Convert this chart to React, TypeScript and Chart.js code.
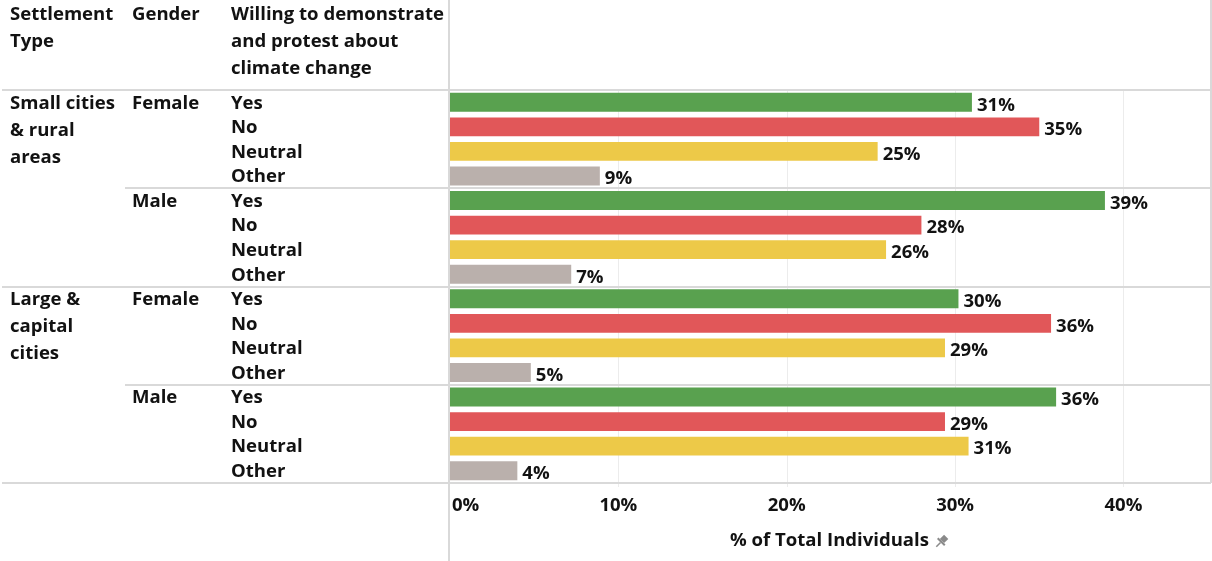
import React, { useEffect, useRef } from "react";
import { Chart, registerables } from "chart.js";
Chart.register(...registerables);

const settlementLines = [["Small cities", "& rural", "areas"], ["Large &", "capital", "cities"]];
const genders = ["Female", "Male"];
const responses = ["Yes", "No", "Neutral", "Other"];
const smallFemale = [31.0, 35.0, 25.4, 8.9];
const smallMale = [38.9, 28.0, 25.9, 7.2];
const largeFemale = [30.2, 35.7, 29.4, 4.8];
const largeMale = [36.0, 29.4, 30.8, 4.0];
const xTicks = [0, 10, 20, 30, 40];
const xTickLabels = ["0%", "10%", "20%", "30%", "40%"];
const axisTitle = "% of Total Individuals";
const headerSettlement = ["Settlement", "Type"];
const headerGender = ["Gender"];
const headerWilling = ["Willing to demonstrate", "and protest about", "climate change"];
const responseColors = ["#59A14F", "#E15759", "#EDC948", "#BAB0AC"];

const groups = [smallFemale, smallMale, largeFemale, largeMale];
const values: number[] = groups.flat();
const labels: string[] = [];
groups.forEach((g, gi) => responses.forEach((r) => labels.push(`${gi}-${r}`)));
const colors: string[] = groups.flatMap(() => responseColors);

const FAMILY = "'Open Sans'";
const TEXT = "#121212";
const LINE = "#d9d9d9";

export default function App() {
  const ref = useRef<HTMLCanvasElement | null>(null);
  useEffect(() => {
    document.body.style.margin = "0";
    const canvas = ref.current!;
    const tablePlugin = {
      id: "table",
      beforeDatasetsDraw(chart: any) {
        const { ctx, chartArea, scales } = chart;
        ctx.save();
        ctx.strokeStyle = "#ececec";
        ctx.lineWidth = 1;
        xTicks.forEach((t) => {
          if (t === 0) return;
          const x = Math.round(scales.x.getPixelForValue(t)) + 0.5;
          ctx.beginPath();
          ctx.moveTo(x, chartArea.top);
          ctx.lineTo(x, chartArea.bottom + 4);
          ctx.stroke();
        });
        ctx.restore();
      },
      afterDraw(chart: any) {
        const { ctx, chartArea, scales } = chart;
        const H = chart.height;
        const ys = scales.y;
        const xs = scales.x;
        const rowY = (i: number) => ys.getPixelForValue(i);
        const between = (i: number) => (rowY(i - 1) + rowY(i)) / 2;
        ctx.save();
        ctx.strokeStyle = LINE;
        ctx.lineWidth = 2;
        const hline = (y: number, x0: number, x1: number) => {
          ctx.beginPath();
          ctx.moveTo(x0, Math.round(y));
          ctx.lineTo(x1, Math.round(y));
          ctx.stroke();
        };
        hline(chartArea.top, 2, chartArea.right);
        hline(between(4), 125, chartArea.right);
        hline(between(8), 2, chartArea.right);
        hline(between(12), 125, chartArea.right);
        hline(chartArea.bottom, 2, chartArea.right);
        ctx.beginPath();
        ctx.moveTo(chartArea.left - 1, 0);
        ctx.lineTo(chartArea.left - 1, H);
        ctx.stroke();
        ctx.beginPath();
        ctx.moveTo(chartArea.right, 0);
        ctx.lineTo(chartArea.right, chartArea.bottom);
        ctx.stroke();

        ctx.font = `bold 16px ${FAMILY}`;
        const w16 = ctx.measureText(headerWilling[0]).width;
        const size = Math.min(19, Math.max(14, (16 * 213) / w16));
        ctx.font = `bold ${size.toFixed(2)}px ${FAMILY}`;
        ctx.fillStyle = TEXT;
        ctx.textBaseline = "middle";
        ctx.textAlign = "left";
        const LH = 27;
        headerSettlement.forEach((t, i) => ctx.fillText(t, 10, 15 + i * LH));
        headerGender.forEach((t, i) => ctx.fillText(t, 132, 15 + i * LH));
        headerWilling.forEach((t, i) => ctx.fillText(t, 231, 15 + i * LH));
        settlementLines.forEach((lines, si) => {
          const y0 = rowY(si * 8) + 1;
          lines.forEach((t, i) => ctx.fillText(t, 10, y0 + i * LH));
        });
        for (let g = 0; g < 4; g++) {
          ctx.fillText(genders[g % 2], 132, rowY(g * 4) + 1);
        }
        labels.forEach((_, i) => {
          ctx.fillText(responses[i % 4], 231, rowY(i) + 1);
        });
        values.forEach((v, i) => {
          const x = xs.getPixelForValue(v) + 5;
          ctx.fillText(Math.round(v) + "%", x, rowY(i) + 3);
        });
        xTicks.forEach((t, i) => {
          const x = xs.getPixelForValue(t);
          if (i === 0) {
            ctx.textAlign = "left";
            ctx.fillText(xTickLabels[i], x + 2, 506);
          } else {
            ctx.textAlign = "center";
            ctx.fillText(xTickLabels[i], x, 506);
          }
        });
        ctx.textAlign = "left";
        const tw = ctx.measureText(axisTitle).width;
        const cx = (chartArea.left + chartArea.right) / 2 + 8;
        const tx = cx - (tw + 18) / 2;
        ctx.fillText(axisTitle, tx, 541);
        const px = tx + tw + 13;
        const py = 541;
        ctx.fillStyle = "#8a8a8a";
        ctx.strokeStyle = "#8a8a8a";
        ctx.translate(px, py);
        ctx.rotate(Math.PI / 4);
        ctx.fillRect(-3, -6, 6, 6);
        ctx.fillRect(-5, 0, 10, 2);
        ctx.lineWidth = 1.5;
        ctx.beginPath();
        ctx.moveTo(0, 2);
        ctx.lineTo(0, 8);
        ctx.stroke();
        ctx.restore();
      },
    };
    const chart = new Chart(canvas, {
      type: "bar",
      data: {
        labels,
        datasets: [
          {
            data: values,
            backgroundColor: colors,
            borderWidth: 0,
            barPercentage: 0.77,
            categoryPercentage: 1,
          },
        ],
      },
      options: {
        indexAxis: "y",
        animation: false,
        responsive: false,
        maintainAspectRatio: false,
        layout: { padding: { left: 450, right: 1, top: 90, bottom: 78 } },
        plugins: { legend: { display: false }, tooltip: { enabled: false } },
        scales: {
          x: { display: false, min: 0, max: 45.2 },
          y: { display: false },
        },
      },
      plugins: [tablePlugin],
    } as any);
    return () => chart.destroy();
  }, []);
  return <canvas ref={ref} width={1212} height={561} style={{ display: "block" }} />;
}
